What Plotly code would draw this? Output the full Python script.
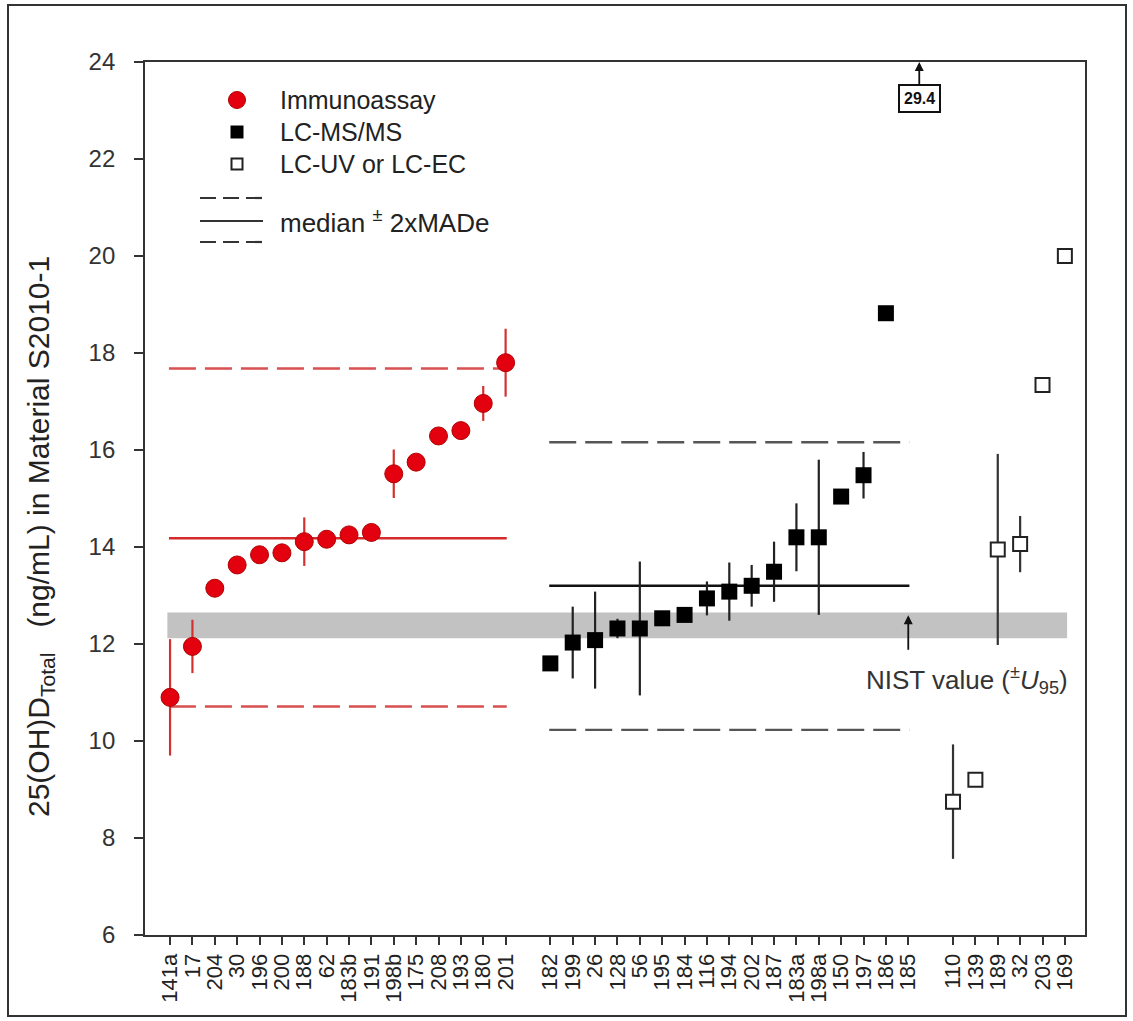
import plotly.graph_objects as go

# ---------------- data ----------------
ia_labels = ["141a", "17", "204", "30", "196", "200", "188", "62", "183b", "191",
             "198b", "175", "208", "193", "180", "201"]
ia_values = [10.90, 11.95, 13.15, 13.63, 13.84, 13.88, 14.11, 14.16, 14.25, 14.30,
             15.51, 15.75, 16.29, 16.40, 16.96, 17.80]
ia_err = [1.20, 0.55, 0, 0, 0, 0, 0.50, 0, 0, 0, 0.50, 0, 0, 0, 0.36, 0.70]

ms_labels = ["182", "199", "26", "128", "56", "195", "184", "116", "194", "202",
             "187", "183a", "198a", "150", "197", "186", "185"]
ms_values = [11.60, 12.03, 12.08, 12.32, 12.32, 12.53, 12.60, 12.94, 13.08, 13.20,
             13.49, 14.20, 14.20, 15.04, 15.48, 18.82, 29.4]
ms_err = [0, 0.74, 1.00, 0.20, 1.38, 0, 0, 0.35, 0.60, 0.43, 0.62, 0.70, 1.60, 0,
          0.48, 0.15, 0]

uv_labels = ["110", "139", "189", "32", "203", "169"]
uv_values = [8.75, 9.20, 13.95, 14.06, 17.34, 20.00]
uv_err = [1.18, 0, 1.97, 0.58, 0, 0]

ia_median, ia_low, ia_high = 14.18, 10.71, 17.68
ms_median, ms_low, ms_high = 13.20, 10.23, 16.16
nist_value, nist_u95 = 12.385, 0.265

y_ticks = [6, 8, 10, 12, 14, 16, 18, 20, 22, 24]

# ---------------- positions (one empty slot between groups) ----------------
ia_x = list(range(len(ia_labels)))
ms_start = len(ia_labels) + 1
ms_x = [ms_start + i for i in range(len(ms_labels))]
uv_start = ms_x[-1] + 2
uv_x = [uv_start + i for i in range(len(uv_labels))]

FONT = "Arial, Liberation Sans, sans-serif"
RED = "#e3000f"
M_L, M_R, M_T, M_B = 145, 48, 62, 86
W, H = 1133, 1021
PW, PH = W - M_L - M_R, H - M_T - M_B


def px2paper(px, py):
    return (px - M_L) / PW, (H - M_B - py) / PH


fig = go.Figure()

# NIST band
fig.add_shape(type="rect", xref="x", yref="y", x0=-0.12, x1=uv_x[-1] + 0.1,
              y0=nist_value - nist_u95, y1=nist_value + nist_u95,
              fillcolor="#c2c2c2", line_width=0, layer="below")


# median lines
def hline(x0, x1, y, color, dash):
    fig.add_shape(type="line", xref="x", yref="y", x0=x0, x1=x1, y0=y, y1=y,
                  line=dict(color=color, width=2.4, dash=dash), layer="below")


DASH = "27px,9px"
hline(ia_x[0] - 0.05, ia_x[-1] + 0.05, ia_median, "#d42a2a", "solid")
hline(ia_x[0] - 0.05, ia_x[-1] + 0.05, ia_low, "#d85050", DASH)
hline(ia_x[0] - 0.05, ia_x[-1] + 0.05, ia_high, "#d85050", DASH)
hline(ms_x[0] - 0.05, ms_x[-1] + 0.05, ms_median, "#111111", "solid")
hline(ms_x[0] - 0.05, ms_x[-1] + 0.05, ms_low, "#555555", DASH)
hline(ms_x[0] - 0.05, ms_x[-1] + 0.05, ms_high, "#555555", DASH)

# data traces
fig.add_trace(go.Scatter(
    x=ia_x, y=ia_values, mode="markers", name="Immunoassay",
    error_y=dict(type="data", array=ia_err, visible=True, width=0,
                 thickness=2.2, color="#d43030"),
    marker=dict(symbol="circle", size=18, color=RED,
                line=dict(color="#b00000", width=1))))
fig.add_trace(go.Scatter(
    x=ms_x, y=ms_values, mode="markers", name="LC-MS/MS",
    error_y=dict(type="data", array=ms_err, visible=True, width=0,
                 thickness=2.2, color="#222222"),
    marker=dict(symbol="square", size=16, color="#000000",
                line=dict(color="#000000", width=0))))
fig.add_trace(go.Scatter(
    x=uv_x, y=uv_values, mode="markers", name="LC-UV or LC-EC",
    error_y=dict(type="data", array=uv_err, visible=True, width=0,
                 thickness=2.2, color="#333333"),
    marker=dict(symbol="square", size=14, color="#ffffff",
                line=dict(color="#222222", width=2))))

# off-scale value annotation
fig.add_annotation(x=ms_x[-1], y=y_ticks[-1], xref="x", yref="y",
                   text="<b>%g</b>" % ms_values[-1], showarrow=True,
                   arrowhead=2, arrowsize=1, arrowwidth=1.8, arrowcolor="#111",
                   ax=0, ay=36, xshift=11,
                   font=dict(family=FONT, size=16, color="#111"),
                   bordercolor="#111", borderwidth=2, borderpad=4,
                   bgcolor="white")

# NIST annotation
fig.add_annotation(x=ms_x[-1], y=nist_value, xref="x", yref="y", text="",
                   showarrow=True, arrowhead=2, arrowsize=1, arrowwidth=1.8,
                   arrowcolor="#111", ax=0, ay=36, yshift=10)
fig.add_annotation(x=ms_x[-1], y=nist_value - nist_u95, xref="x", yref="y",
                   text="NIST value (<sup>±</sup><i>U</i><sub>95</sub>)",
                   showarrow=False, xanchor="left", yanchor="middle",
                   xshift=-44, yshift=-42,
                   font=dict(family=FONT, size=26, color="#333"))

# ---- legend (drawn manually) ----
cx, cy = px2paper(237, 100)
r = 8.5
fig.add_shape(type="circle", xref="paper", yref="paper",
              x0=cx - r / PW, x1=cx + r / PW, y0=cy - r / PH, y1=cy + r / PH,
              fillcolor=RED, line=dict(color="#b00000", width=1))
cx, cy = px2paper(237, 132)
s = 6.5
fig.add_shape(type="rect", xref="paper", yref="paper",
              x0=cx - s / PW, x1=cx + s / PW, y0=cy - s / PH, y1=cy + s / PH,
              fillcolor="#000", line=dict(color="#000", width=0))
cx, cy = px2paper(237, 164)
s = 5.5
fig.add_shape(type="rect", xref="paper", yref="paper",
              x0=cx - s / PW, x1=cx + s / PW, y0=cy - s / PH, y1=cy + s / PH,
              fillcolor="#fff", line=dict(color="#222", width=2))
for name, py in [(fig.data[0].name, 100), (fig.data[1].name, 132), (fig.data[2].name, 164)]:
    lx, ly = px2paper(278, py)
    fig.add_annotation(x=lx, y=ly, xref="paper", yref="paper", text=name,
                       showarrow=False, xanchor="left", yanchor="middle",
                       font=dict(family=FONT, size=25, color="#222"))

for py, dash in [(198, "16px,7px"), (221, "solid"), (242, "16px,7px")]:
    x0, y0 = px2paper(200, py)
    x1, _ = px2paper(263, py)
    fig.add_shape(type="line", xref="paper", yref="paper", x0=x0, x1=x1,
                  y0=y0, y1=y0, line=dict(color="#333", width=2.2, dash=dash))
lx, ly = px2paper(278, 221)
fig.add_annotation(x=lx, y=ly, xref="paper", yref="paper",
                   text="median <sup>±</sup> 2xMADe", showarrow=False,
                   xanchor="left", yanchor="middle",
                   font=dict(family=FONT, size=26, color="#222"))

# y-axis title
tx, ty = px2paper(40, 537)
fig.add_annotation(x=tx, y=ty, xref="paper", yref="paper", textangle=-90,
                   text="25(OH)D<sub>Total</sub>   (ng/mL) in Material S2010-1",
                   showarrow=False, xanchor="center", yanchor="middle",
                   font=dict(family=FONT, size=30, color="#222"))

# outer frame
fx0, fy0 = px2paper(8, 1016)
fx1, fy1 = px2paper(1126, 5)
fig.add_shape(type="rect", xref="paper", yref="paper", x0=fx0, x1=fx1,
              y0=fy0, y1=fy1, line=dict(color="#333", width=2))

fig.update_layout(
    width=W, height=H,
    margin=dict(l=M_L, r=M_R, t=M_T, b=M_B),
    paper_bgcolor="white", plot_bgcolor="white",
    font=dict(family=FONT, color="#222"),
    showlegend=False,
    xaxis=dict(range=[-1.12, uv_x[-1] + 0.9], tickmode="array",
               tickvals=ia_x + ms_x + uv_x, ticktext=ia_labels + ms_labels + uv_labels,
               tickangle=-90, ticks="outside", ticklen=8, tickwidth=1.8,
               tickcolor="#333", showline=True, linecolor="#333", linewidth=1.8,
               mirror=True, showgrid=False, zeroline=False, automargin=False,
               tickfont=dict(family=FONT, size=22, color="#222")),
    yaxis=dict(range=[6, 24], tickvals=y_ticks, ticks="outside", ticklen=9,
               tickwidth=1.8, tickcolor="#333", showline=True, linecolor="#333",
               linewidth=1.8, mirror=True, showgrid=False, zeroline=False,
               ticklabelstandoff=14, automargin=False,
               tickfont=dict(family=FONT, size=24, color="#333")),
)

fig.write_html("out.html")
